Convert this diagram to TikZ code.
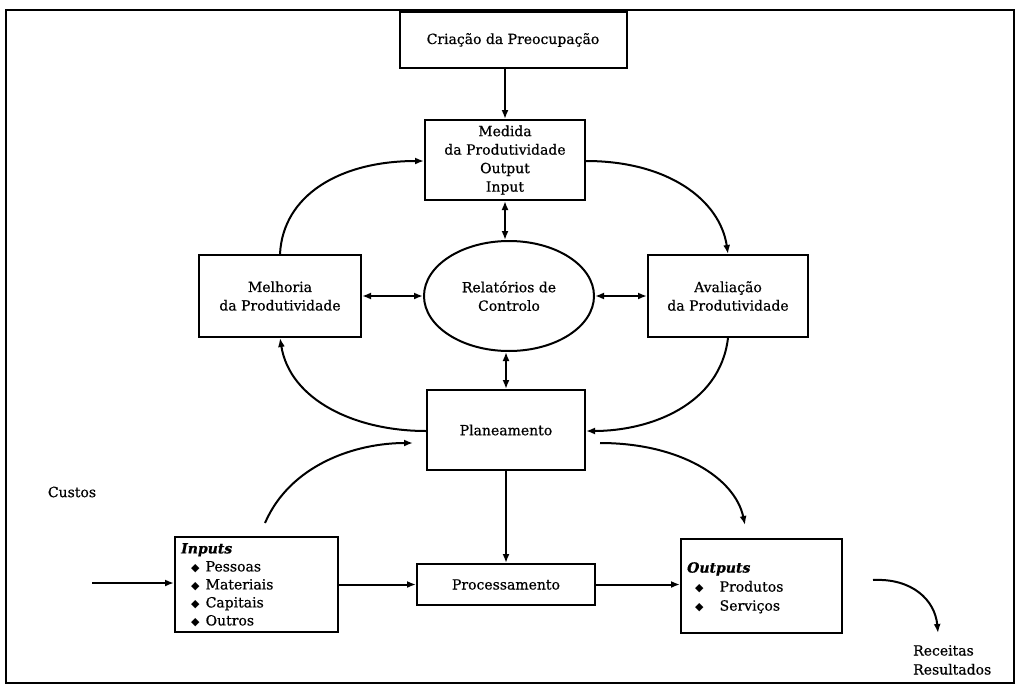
\documentclass[tikz,border=0pt]{standalone}
\usepackage{fontspec}
\setmainfont{DejaVu Serif}[FakeBold=0.6]
\newfontfamily\symfont{DejaVu Sans}
\usetikzlibrary{shapes.geometric,arrows.meta}
\newcommand\bulletmark{{\symfont\fontsize{11}{11}\selectfont\char"25C6}}

\begin{document}
\begin{tikzpicture}[x=1pt,y=-1pt,
  txt/.style={font=\fontsize{14}{18.5}\selectfont},
  box/.style={draw, line width=2pt, align=center, inner sep=0pt, txt},
  oval/.style={ellipse, draw, line width=2pt, align=center, inner sep=0pt, txt},
  listtext/.style={align=left, inner sep=0pt, font=\fontsize{14}{18}\selectfont},
  conn/.style={line width=2pt, -{Latex[length=9pt,width=7pt]}},
  biconn/.style={line width=2pt, {Latex[length=9pt,width=7pt]}-{Latex[length=9pt,width=7pt]}},
  frame/.style={line width=2.2pt}
]
\useasboundingbox (0,0) rectangle (1023,688);
\draw[frame] (6,10) rectangle (1014,683);

% main boxes
\node[box, minimum width=227pt, minimum height=56pt] (crio) at (513,40) {Criação da Preocupação};
\node[box, minimum width=160pt, minimum height=80pt] (medida) at (505,160)
  {Medida\\da Produtividade\\Output\\Input};
\node[oval, minimum width=170pt, minimum height=110pt] (rel) at (509,296)
  {Relatórios de\\Controlo};
\node[box, minimum width=162pt, minimum height=82pt] (melh) at (280,296)
  {Melhoria\\da Produtividade};
\node[box, minimum width=160pt, minimum height=82pt] (aval) at (728,296)
  {Avaliação\\da Produtividade};
\node[box, minimum width=158pt, minimum height=80pt] (plan) at (506,430) {Planeamento};

% production chain
\node[box, minimum width=163pt, minimum height=95pt] (inp) at (256.5,584.5) {};
\node[listtext, anchor=north west] (inlist) at (181,543)
  {\textbf{\textit{Inputs}}\\
   \hspace*{10pt}\bulletmark\hspace{6pt}Pessoas\\
   \hspace*{10pt}\bulletmark\hspace{6pt}Materiais\\
   \hspace*{10pt}\bulletmark\hspace{6pt}Capitais\\
   \hspace*{10pt}\bulletmark\hspace{6pt}Outros};
\node[box, minimum width=178pt, minimum height=41pt] (proc) at (506,584.5) {Processamento};
\node[box, minimum width=161pt, minimum height=94pt] (outp) at (761.5,586) {};
\node[listtext, anchor=north west, font=\fontsize{14}{19}\selectfont] (outlist) at (687,562)
  {\textbf{\textit{Outputs}}\\
   \hspace*{8pt}\bulletmark\hspace{16pt}Produtos\\
   \hspace*{8pt}\bulletmark\hspace{16pt}Serviços};

\node[txt] (custos) at (72,492) {Custos};
\node[listtext, anchor=north west, font=\fontsize{14}{19}\selectfont] (receitas) at (913,645)
  {Receitas\\Resultados};

% free ends of the open curves
\coordinate (custosStart) at (92,583);
\coordinate (inCurveA) at (265,523);
\coordinate (inCurveB) at (413,443);
\coordinate (outCurveA) at (600,443);
\coordinate (outCurveB) at (745,525);
\coordinate (recA) at (873,580);
\coordinate (recB) at (938,633);

% straight connectors
\draw[conn] (medida.north |- crio.south) -- (medida.north);
\draw[biconn] (medida.south) -- (medida.south |- rel.north);
\draw[biconn] (melh.east) -- (rel.west);
\draw[biconn] (rel.east) -- (aval.west);
\draw[biconn] (plan.north |- rel.south) -- (plan.north);
\draw[conn] (plan.south) -- (proc.north);
\draw[conn] (custosStart) -- (custosStart -| inp.west);
\draw[conn] (inp.east |- proc.west) -- (proc.west);
\draw[conn] (proc.east) -- (proc.east -| outp.west);

% the improvement loop
\draw[conn] (melh.north) .. controls (283,195) and (340,161) .. (medida.west |- 0,161);
\draw[conn] (medida.east |- 0,161) .. controls (668,161) and (720,200) .. (aval.north);
\draw[conn] (aval.south) .. controls (720,405) and (650,431) .. (plan.east |- 0,431);
\draw[conn] (plan.west |- 0,431) .. controls (355,431) and (290,400) .. (melh.south);

% curved arrows around the chain
\draw[conn] (inCurveA) .. controls (290,465) and (355,443) .. (inCurveB);
\draw[conn] (outCurveA) .. controls (680,443) and (735,478) .. (outCurveB);
\draw[conn] (recA) .. controls (912,578) and (935,600) .. (recB);
\end{tikzpicture}
\end{document}
